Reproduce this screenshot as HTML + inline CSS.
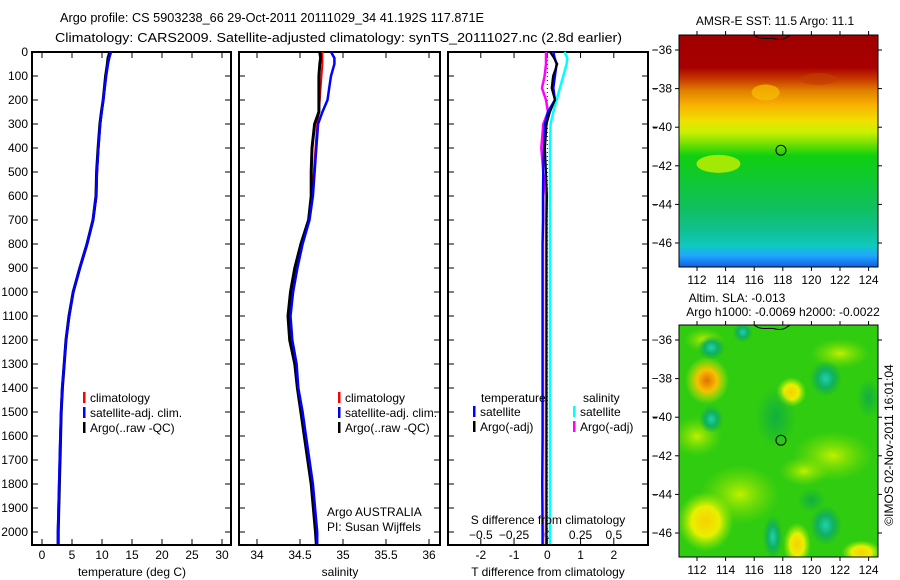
<!DOCTYPE html>
<html><head><meta charset="utf-8"><style>
html,body{margin:0;padding:0;background:#fff;}
svg{display:block;font-family:"Liberation Sans",sans-serif;}
text{font-size:12px;fill:#000;}
</style></head><body>
<svg id="s" width="900" height="580" viewBox="0 0 900 580">
<defs>
<linearGradient id="sstGrad" x1="0" y1="0" x2="0" y2="1">
<stop offset="0" stop-color="#a00000"/><stop offset="0.14" stop-color="#a80000"/>
<stop offset="0.19" stop-color="#c83800"/><stop offset="0.24" stop-color="#e08000"/>
<stop offset="0.30" stop-color="#f8b000"/><stop offset="0.37" stop-color="#f0e000"/>
<stop offset="0.42" stop-color="#c8f000"/><stop offset="0.47" stop-color="#70e000"/>
<stop offset="0.52" stop-color="#10d010"/><stop offset="0.62" stop-color="#10c830"/>
<stop offset="0.75" stop-color="#10c060"/><stop offset="0.84" stop-color="#10c090"/>
<stop offset="0.91" stop-color="#10c8c0"/><stop offset="0.95" stop-color="#20a8ff"/>
<stop offset="1" stop-color="#1060e0"/>
</linearGradient>
<radialGradient id="gOr"><stop offset="0" stop-color="#e07000"/><stop offset="0.45" stop-color="#f8c000"/><stop offset="1" stop-color="#c8f000" stop-opacity="0"/></radialGradient>
<radialGradient id="gYe"><stop offset="0" stop-color="#f8d000"/><stop offset="0.5" stop-color="#e8f000"/><stop offset="1" stop-color="#a0f000" stop-opacity="0"/></radialGradient>
<radialGradient id="gYg"><stop offset="0" stop-color="#c0f000"/><stop offset="1" stop-color="#80e000" stop-opacity="0"/></radialGradient>
<radialGradient id="gTe"><stop offset="0" stop-color="#20d0b0"/><stop offset="0.5" stop-color="#10b060"/><stop offset="1" stop-color="#10b040" stop-opacity="0"/></radialGradient>
<radialGradient id="gDk"><stop offset="0" stop-color="#10b040"/><stop offset="1" stop-color="#10b040" stop-opacity="0"/></radialGradient>
</defs>
<text x="60" y="22" textLength="424" lengthAdjust="spacingAndGlyphs" style="font-size:13px">Argo profile: CS 5903238_66 29-Oct-2011 20111029_34 41.192S 117.871E</text>
<text x="55" y="42" textLength="567" lengthAdjust="spacingAndGlyphs" style="font-size:13px">Climatology: CARS2009. Satellite-adjusted climatology: synTS_20111027.nc (2.8d earlier)</text>
<g id="g1"></g>
<g id="g2"></g>
<g id="g3"></g>
<g id="m1"></g>
<g id="m2"></g>
<text transform="translate(893,445) rotate(-90)" text-anchor="middle">©IMOS 02-Nov-2011 16:01:04</text>
</svg>
<script>
const NS="http://www.w3.org/2000/svg";
// depth levels (m)
const depths=[0,25,50,100,150,200,250,300,400,500,600,700,800,900,1000,1100,1200,1300,1400,1500,1600,1800,2000,2050];
const tempClim=[11.3,11.1,10.9,10.6,10.4,10.2,9.95,9.7,9.4,9.2,9.1,8.55,7.55,6.3,5.2,4.55,4.0,3.7,3.4,3.25,3.1,2.9,2.7,2.65];
const tempSat=[11.5,11.2,11.0,10.7,10.45,10.2,9.95,9.7,9.4,9.15,9.0,8.5,7.5,6.3,5.2,4.55,4.0,3.7,3.35,3.2,3.05,2.85,2.65,2.65];
const tempArgo=[11.3,11.0,10.9,10.6,10.4,10.2,9.9,9.65,9.35,9.1,9.0,8.5,7.5,6.3,5.2,4.5,4.0,3.7,3.4,3.2,3.1,2.9,2.7,2.7];
const salClim=[34.76,34.76,34.76,34.75,34.74,34.73,34.72,34.70,34.68,34.66,34.64,34.60,34.52,34.46,34.41,34.38,34.40,34.45,34.47,34.52,34.56,34.64,34.69,34.70];
const salSat=[34.86,34.90,34.90,34.86,34.84,34.82,34.76,34.71,34.69,34.67,34.65,34.61,34.53,34.47,34.42,34.39,34.41,34.46,34.48,34.53,34.57,34.65,34.70,34.70];
const salArgo=[34.73,34.74,34.73,34.72,34.72,34.72,34.72,34.67,34.64,34.63,34.63,34.60,34.51,34.44,34.39,34.36,34.38,34.44,34.47,34.51,34.55,34.63,34.68,34.69];
const dTsat=[0.18,0.22,0.28,0.23,0.18,0.23,0.02,-0.07,-0.1,-0.12,-0.13,-0.13,-0.14,-0.14,-0.14,-0.14,-0.14,-0.14,-0.14,-0.14,-0.14,-0.15,-0.14,-0.14];
const dTargo=[0.08,0.2,0.3,0.17,0.13,0.23,0.08,-0.02,-0.07,-0.04,-0.01,-0.02,-0.02,-0.02,-0.02,-0.02,-0.02,-0.02,-0.02,-0.02,-0.02,-0.02,-0.02,-0.02];
const dSsat=[0.13,0.15,0.145,0.12,0.095,0.07,0.045,0.025,0.02,0.02,0.02,0.02,0.02,0.02,0.02,0.02,0.02,0.02,0.02,0.02,0.02,0.02,0.02,0.02];
const dSargo=[-0.01,-0.01,-0.01,-0.02,-0.04,-0.01,0.005,-0.03,-0.045,-0.03,-0.01,-0.01,-0.01,-0.01,-0.01,-0.01,-0.01,-0.01,-0.01,-0.01,-0.01,-0.01,-0.01,-0.01];
const depthTicks=[0,100,200,300,400,500,600,700,800,900,1000,1100,1200,1300,1400,1500,1600,1700,1800,1900,2000];
const tempTicks=[0,5,10,15,20,25,30];
const salTicks=[34,34.5,35,35.5,36];
const dTTicks=[-2,-1,0,1,2];
const dSTicks=[-0.5,-0.25,0,0.25,0.5];
const lonTicks=[112,114,116,118,120,122,124];
const latTicks=[-36,-38,-40,-42,-44,-46];
const argoLon=117.871, argoLat=-41.192;

const TOP=52,BOT=545;
const yD=d=>TOP+d*0.24;
function mk(p,tag,at){const e=document.createElementNS(NS,tag);for(const k in at)e.setAttribute(k,at[k]);p.appendChild(e);return e;}
function txt(p,x,y,s,anc){const e=mk(p,'text',{x:x,y:y,'text-anchor':anc||'start'});e.textContent=s;return e;}
function box(g,x0,x1){
  const r=mk(g,'rect',{x:x0,y:TOP,width:x1-x0,height:BOT-TOP,fill:'none',stroke:'#000','stroke-width':2});
  
  depthTicks.forEach(d=>{mk(g,'line',{x1:x0,x2:x0+6,y1:yD(d),y2:yD(d),stroke:'#000'});mk(g,'line',{x1:x1-6,x2:x1,y1:yD(d),y2:yD(d),stroke:'#000'});});
}
function xticks(g,fx,ticks,y,lab){
  ticks.forEach(v=>{const x=fx(v);mk(g,'line',{x1:x,x2:x,y1:TOP,y2:TOP+6,stroke:'#000'});mk(g,'line',{x1:x,x2:x,y1:BOT-6,y2:BOT,stroke:'#000'});
   if(lab){const t=txt(g,x,y,String(v),'middle');}});
}
function line(g,fx,vals,col,w,name){
  let d='';depths.forEach((dp,i)=>{d+=(i?'L':'M')+fx(vals[i]).toFixed(1)+','+yD(dp).toFixed(1);});
  const p=mk(g,'path',{d:d,fill:'none',stroke:col,'stroke-width':w});
  
}
function legend(g,x,y,items){
  items.forEach((it,i)=>{const yy=y+i*15;mk(g,'rect',{x:x,y:yy-10,width:2.5,height:11,fill:it[1]});
    const t=txt(g,x+7,yy,it[0]);});
}
// Panel 1
const g1=document.getElementById('g1');
const fT=v=>42+v*6.0;
box(g1,32,231);
depthTicks.forEach(d=>{const t=txt(g1,28,yD(d)+4,String(d),'end');});
xticks(g1,fT,tempTicks,559,true);
line(g1,fT,tempClim,'#ff0000',2,'temp-climatology-line');
line(g1,fT,tempArgo,'#000',3,'temp-argo-line');
line(g1,fT,tempSat,'#0000ff',2.5,'temp-satellite-line');
let t=txt(g1,132,576,'temperature (deg C)','middle');
legend(g1,83,402,[['climatology','#ff0000'],['satellite-adj. clim.','#0000ff'],['Argo(..raw -QC)','#000']]);
// Panel 2
const g2=document.getElementById('g2');
const fS=v=>257+(v-34)*86;
box(g2,239,440);
xticks(g2,fS,salTicks,559,true);
line(g2,fS,salClim,'#ff0000',2,'sal-climatology-line');
line(g2,fS,salArgo,'#000',3,'sal-argo-line');
line(g2,fS,salSat,'#0000ff',2.5,'sal-satellite-line');
t=txt(g2,340,576,'salinity','middle');
legend(g2,338,402,[['climatology','#ff0000'],['satellite-adj. clim.','#0000ff'],['Argo(..raw -QC)','#000']]);
t=txt(g2,327,516,'Argo AUSTRALIA');
t=txt(g2,327,531,'PI: Susan Wijffels');
// Panel 3
const g3=document.getElementById('g3');
const fdT=v=>547.3+v*33.25, fdS=v=>547.3+v*133;
box(g3,448,648);
xticks(g3,fdT,dTTicks,559,true);
dSTicks.forEach(v=>{const tt=txt(g3,fdS(v),539,String(v).replace('-','\u2212'),'middle');});
mk(g3,'line',{x1:547.3,x2:547.3,y1:TOP,y2:BOT,stroke:'#000','stroke-dasharray':'1,3'});
line(g3,fdS,dSsat,'#00ffff',2.5,'sdiff-satellite-line');
line(g3,fdS,dSargo,'#ff00ff',2.5,'sdiff-argo-line');
line(g3,fdT,dTsat,'#0000ff',2.5,'tdiff-satellite-line');
line(g3,fdT,dTargo,'#000',2,'tdiff-argo-line');
t=txt(g3,548,524,'S difference from climatology','middle');
t=txt(g3,548,576,'T difference from climatology','middle');
t=txt(g3,481,402,'temperature');
t=txt(g3,583,402,'salinity');
legend(g3,473,416,[['satellite','#0000ff'],['Argo(-adj)','#000']]);
legend(g3,573,416,[['satellite','#00ffff'],['Argo(-adj)','#ff00ff']]);
[50,89,128,166,205,243,418,456,495,533].forEach(y=>mk(g3,'line',{x1:653,x2:657,y1:y,y2:y,stroke:'#000'}));
// Maps
const fLon=v=>697+(v-112)*14.3;
function map(id,y0,y1,title){
  const g=document.getElementById(id);
  const fLat=v=>(y0+15)+(-36-v)*19.3;
  const clip=mk(g,'clipPath',{id:id+'c'});mk(clip,'rect',{x:679,y:y0,width:199,height:y1-y0});
  const inner=mk(g,'g',{'clip-path':'url(#'+id+'c)'});
  if(id==='m1'){
    mk(inner,'rect',{x:679,y:y0,width:199,height:y1-y0,fill:'url(#sstGrad)'});
    mk(inner,'ellipse',{cx:fLon(113.5),cy:fLat(-41.9),rx:22,ry:9,fill:'#c8f000',opacity:0.8});
    mk(inner,'ellipse',{cx:fLon(120.5),cy:fLat(-37.5),rx:18,ry:6,fill:'#c04000',opacity:0.6});
    mk(inner,'ellipse',{cx:fLon(116.8),cy:fLat(-38.2),rx:14,ry:8,fill:'#f8c000',opacity:0.7});
  } else {
    mk(inner,'rect',{x:679,y:y0,width:199,height:y1-y0,fill:'#30cc10'});
    [[115,-44,40,30,'gYg'],[121.5,-42,40,25,'gYg'],[122,-36.7,30,15,'gYg'],[118.6,-38.7,15,15,'gYe'],
     [119.5,-42.8,25,15,'gYg'],[112,-41,25,20,'gYg'],[112.7,-38.1,22,24,'gOr'],[112.6,-45.4,28,30,'gYe'],
     [119,-46.6,14,22,'gYe'],[112.5,-36,20,12,'gYg'],[123.5,-47,20,12,'gYe'],
     [113,-36.4,14,12,'gTe'],[113,-40.1,12,14,'gTe'],[121,-38,16,18,'gTe'],[121,-45.6,16,20,'gTe'],
     [117.3,-46.2,10,22,'gTe'],[115.2,-35.6,10,10,'gTe'],[120,-44.3,14,12,'gDk'],[117.5,-40,20,30,'gDk'],[124,-39,12,20,'gDk']]
     .forEach(b=>mk(inner,'ellipse',{cx:fLon(b[0]),cy:fLat(b[1]),rx:b[2],ry:b[3],fill:'url(#'+b[4]+')'}));
  }
  mk(g,'path',{d:`M${fLon(116)},${y0} C${fLon(116.5)},${y0+6} ${fLon(117)},${y0+2} ${fLon(117.5)},${y0+4} S${fLon(118.3)},${y0+2} ${fLon(118.5)},${y0}`,fill:'none',stroke:'#000','stroke-width':1});
  const c=mk(g,'circle',{cx:fLon(argoLon),cy:fLat(argoLat),r:5,fill:'none',stroke:'#000'});
  
  mk(g,'rect',{x:679,y:y0,width:199,height:y1-y0,fill:'none',stroke:'#000','stroke-width':1});
  lonTicks.forEach(v=>{const x=fLon(v);mk(g,'line',{x1:x,x2:x,y1:y0-4,y2:y0,stroke:'#000'});mk(g,'line',{x1:x,x2:x,y1:y1,y2:y1+4,stroke:'#000'});
    const tt=txt(g,x,y1+17,String(v),'middle');});
  latTicks.forEach(v=>{const y=fLat(v);mk(g,'line',{x1:675,x2:679,y1:y,y2:y,stroke:'#000'});mk(g,'line',{x1:878,x2:882,y1:y,y2:y,stroke:'#000'});
    const tt=txt(g,672,y+4,String(v).replace('-','\u2212'),'end');});
  title.forEach((s,i)=>{const tt=txt(g,s[1],s[2],s[0],'middle');});
}
map('m1',35,267,[['AMSR-E SST: 11.5 Argo: 11.1',775,25]]);
map('m2',325,557,[['Altim. SLA: -0.013',737,302],['Argo h1000: -0.0069 h2000: -0.0022',783,316]]);
</script>
</body></html>
